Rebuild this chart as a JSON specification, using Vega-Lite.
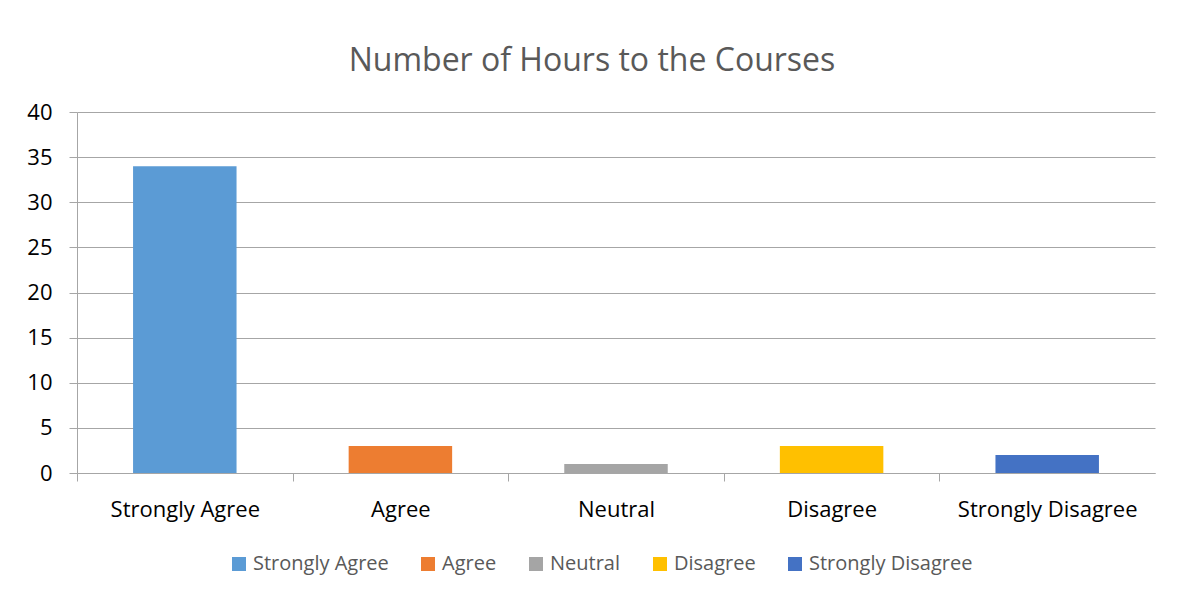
{
  "$schema": "https://vega.github.io/schema/vega-lite/v6.json",
  "autosize": {"type": "none"},
  "width": 1078,
  "height": 361,
  "padding": {"left": 77, "top": 112, "right": 27, "bottom": 122},
  "background": "white",
  "title": {
    "text": "Number of Hours to the Courses",
    "font": "Open Sans",
    "fontSize": 32,
    "fontWeight": "normal",
    "color": "#595959",
    "anchor": "middle",
    "dx": -24,
    "offset": 23
  },
  "data": {
    "values": [
      {"response": "Strongly Agree", "hours": 34},
      {"response": "Agree", "hours": 3},
      {"response": "Neutral", "hours": 1},
      {"response": "Disagree", "hours": 3},
      {"response": "Strongly Disagree", "hours": 2}
    ]
  },
  "mark": {"type": "bar"},
  "encoding": {
    "x": {
      "field": "response",
      "type": "nominal",
      "sort": ["Strongly Agree", "Agree", "Neutral", "Disagree", "Strongly Disagree"],
      "scale": {"paddingInner": 0.52, "paddingOuter": 0.26},
      "axis": {
        "title": null,
        "labelAngle": 0,
        "labelFont": "Open Sans",
        "labelFontSize": 22,
        "labelColor": "#000000",
        "labelPadding": 18,
        "labelLimit": 300,
        "tickOffset": -107.8,
        "labelOffset": 107.8,
        "tickSize": 8,
        "tickColor": "#a6a6a6",
        "domainColor": "#a6a6a6",
        "grid": false
      }
    },
    "y": {
      "field": "hours",
      "type": "quantitative",
      "scale": {"domain": [0, 40]},
      "axis": {
        "title": null,
        "values": [0, 5, 10, 15, 20, 25, 30, 35, 40],
        "labelFont": "Open Sans",
        "labelFontSize": 22,
        "labelColor": "#000000",
        "labelPadding": 17,
        "tickSize": 8,
        "tickColor": "#a6a6a6",
        "domainColor": "#a6a6a6",
        "grid": true,
        "gridColor": "#a6a6a6",
        "gridWidth": 1
      }
    },
    "color": {
      "field": "response",
      "type": "nominal",
      "scale": {
        "domain": ["Strongly Agree", "Agree", "Neutral", "Disagree", "Strongly Disagree"],
        "range": ["#5B9BD5", "#ED7D31", "#A5A5A5", "#FFC000", "#4472C4"]
      },
      "legend": {
        "title": null,
        "orient": "none",
        "direction": "horizontal",
        "legendX": 152,
        "legendY": 442,
        "symbolType": "square",
        "symbolSize": 196,
        "symbolStrokeWidth": 0,
        "labelFont": "Open Sans",
        "labelFontSize": 20,
        "labelColor": "#595959",
        "labelLimit": 300,
        "columnPadding": 29,
        "labelOffset": 4
      }
    }
  },
  "config": {
    "view": {"stroke": null},
    "axis": {"labelFont": "Open Sans"}
  }
}
